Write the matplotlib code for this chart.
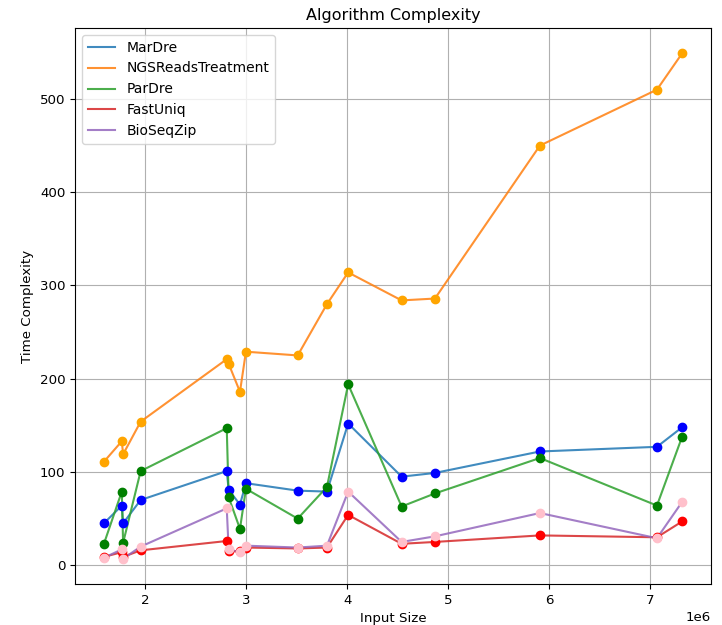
import matplotlib
matplotlib.use("Agg")
import matplotlib.pyplot as plt

input_size = [1.59e6, 1.767e6, 1.78e6, 1.954e6, 2.807e6, 2.826e6, 2.938e6, 2.997e6,
              3.51e6, 3.80e6, 4.01e6, 4.54e6, 4.87e6, 5.91e6, 7.07e6, 7.32e6]

mardre = [45, 64, 45, 70, 101, 81, 65, 88, 80, 79, 152, 95, 99, 122, 127, 148]
ngs = [111, 133, 119, 154, 221, 216, 186, 229, 225, 280, 314, 284, 286, 450, 510, 549]
pardre = [23, 79, 24, 101, 147, 73, 39, 82, 50, 84, 194, 63, 77, 115, 64, 138]
fastuniq = [9, 14, 9, 16, 26, 15, 15, 19, 18, 19, 54, 23, 25, 32, 30, 47]
bioseqzip = [8, 17, 7, 20, 61, 17, 14, 21, 19, 21, 79, 25, 31, 56, 29, 68]

series = [
    ("MarDre", mardre, "blue"),
    ("NGSReadsTreatment", ngs, "orange"),
    ("ParDre", pardre, "green"),
    ("FastUniq", fastuniq, "red"),
    ("BioSeqZip", bioseqzip, "pink"),
]

plt.rcParams["font.size"] = 9.6

fig = plt.figure(figsize=(7.22, 6.25), dpi=100)
ax = fig.add_axes([0.1039, 0.0656, 0.881, 0.8896])

for i, (name, vals, dot_color) in enumerate(series):
    ax.plot(input_size, vals, color=f"C{i}", label=name, alpha=0.85)
    ax.scatter(input_size, vals, color=dot_color, zorder=3)

ax.set_title("Algorithm Complexity", fontsize=11.5)
ax.set_xlabel("Input Size")
ax.set_ylabel("Time Complexity")
ax.grid(True)
ax.legend(loc="upper left", fontsize=10)

fig.savefig("out.png", dpi=100)
